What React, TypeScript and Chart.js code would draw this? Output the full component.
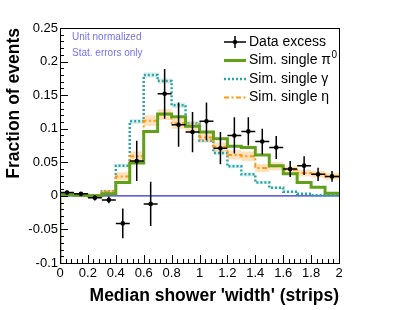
import React, { useEffect, useRef } from "react";
import { Chart, registerables } from "chart.js";

Chart.register(...registerables);

// ---- data ----
const binEdges = [0, 0.1, 0.2, 0.3, 0.4, 0.5, 0.6, 0.7, 0.8, 0.9, 1.0, 1.1, 1.2, 1.3, 1.4, 1.5, 1.6, 1.7, 1.8, 1.9, 2.0];
const binCenters = [0.05, 0.15, 0.25, 0.35, 0.45, 0.55, 0.65, 0.75, 0.85, 0.95, 1.05, 1.15, 1.25, 1.35, 1.45, 1.55, 1.65, 1.75, 1.85, 1.95];

const dataValues = [0.005, 0.003, -0.003, -0.006, -0.041, 0.052, -0.012, 0.152, 0.106, 0.095, 0.111, 0.071, 0.090, 0.096, 0.081, 0.072, 0.040, 0.045, 0.032, 0.029];
const dataErrors = [0.003, 0.002, 0.004, 0.005, 0.022, 0.030, 0.033, 0.037, 0.033, 0.030, 0.028, 0.024, 0.027, 0.021, 0.019, 0.017, 0.012, 0.014, 0.010, 0.008];

const pi0Values = [0.002, 0.001, 0.000, 0.003, 0.020, 0.049, 0.096, 0.122, 0.118, 0.1035, 0.095, 0.085, 0.074, 0.072, 0.061, 0.045, 0.033, 0.020, 0.0127, 0.004];

const gammaValues = [0.001, 0.001, 0.001, 0.007, 0.045, 0.111, 0.180, 0.171, 0.135, 0.108, 0.082, 0.064, 0.044, 0.032, 0.020, 0.012, 0.006, 0.003, 0.001, 0.001];
const gammaErrors = [0.001, 0.001, 0.001, 0.002, 0.003, 0.004, 0.004, 0.004, 0.004, 0.004, 0.003, 0.003, 0.003, 0.003, 0.002, 0.002, 0.002, 0.001, 0.001, 0.001];

const etaValues = [0.001, 0.001, 0.001, 0.006, 0.029, 0.059, 0.112, 0.121, 0.108, 0.1035, 0.087, 0.073, 0.061, 0.059, 0.0415, 0.044, 0.039, 0.034, 0.032, 0.029];
const etaErrors = [0.001, 0.001, 0.001, 0.003, 0.006, 0.007, 0.008, 0.008, 0.008, 0.007, 0.007, 0.007, 0.007, 0.007, 0.006, 0.006, 0.005, 0.005, 0.005, 0.005];

const xTickValues = [0, 0.2, 0.4, 0.6, 0.8, 1.0, 1.2, 1.4, 1.6, 1.8, 2.0];
const yTickValues = [-0.1, -0.05, 0, 0.05, 0.1, 0.15, 0.2, 0.25];
const xRange = [0, 2];
const yRange = [-0.1, 0.25];

const legendLabels = ["Data excess", "Sim. single π", "Sim. single γ", "Sim. single η"];
const noteLabels = ["Unit normalized", "Stat. errors only"];
const xTitle = "Median shower 'width' (strips)";
const yTitle = "Fraction of events";

// ---- styles ----
const FONT = "'Liberation Sans', Arial, Helvetica, sans-serif";
const GREEN = "#62a01a";
const TEAL = "#2ca5a5";
const ORANGE = "#ff9a10";
const BLUE = "#2f2fd0";
const NOTE = "#7272e8";

function steps(values: number[], errs: number[] | null, sign: number) {
  const pts: { x: number; y: number }[] = [];
  values.forEach((v, i) => {
    const y = v + (errs ? sign * errs[i] : 0);
    pts.push({ x: binEdges[i], y });
    pts.push({ x: binEdges[i + 1], y });
  });
  return pts;
}

const fmt = (v: number) => String(Math.round(v * 100) / 100);

const overlayPlugin = {
  id: "overlay",
  afterDatasetsDraw(chart: any) {
    const { ctx, scales } = chart;
    const xs = scales.x;
    const ys = scales.y;
    ctx.save();
    ctx.strokeStyle = "#000";
    ctx.lineWidth = 1.5;
    dataValues.forEach((v, i) => {
      const cx = xs.getPixelForValue(binCenters[i]);
      const cy = ys.getPixelForValue(v);
      ctx.beginPath();
      ctx.moveTo(cx, ys.getPixelForValue(v + dataErrors[i]));
      ctx.lineTo(cx, ys.getPixelForValue(v - dataErrors[i]));
      ctx.moveTo(xs.getPixelForValue(binEdges[i]), cy);
      ctx.lineTo(xs.getPixelForValue(binEdges[i + 1]), cy);
      ctx.stroke();
    });
    ctx.restore();
  },
  afterDraw(chart: any) {
    const { ctx, chartArea: a, scales } = chart;
    const xs = scales.x;
    const ys = scales.y;
    ctx.save();
    ctx.strokeStyle = "#000";
    ctx.lineWidth = 1;
    ctx.strokeRect(Math.round(a.left) + 0.5, Math.round(a.top) + 0.5, Math.round(a.right - a.left), Math.round(a.bottom - a.top));
    ctx.beginPath();
    for (let i = 0; i < xTickValues.length; i++) {
      const v = xTickValues[i];
      const px = Math.round(xs.getPixelForValue(v)) + 0.5;
      ctx.moveTo(px, a.bottom);
      ctx.lineTo(px, a.bottom - 8);
      if (i < xTickValues.length - 1) {
        const step = (xTickValues[i + 1] - v) / 5;
        for (let k = 1; k < 5; k++) {
          const mx = Math.round(xs.getPixelForValue(v + k * step)) + 0.5;
          ctx.moveTo(mx, a.bottom);
          ctx.lineTo(mx, a.bottom - 4);
        }
      }
    }
    for (let i = 0; i < yTickValues.length; i++) {
      const v = yTickValues[i];
      const py = Math.round(ys.getPixelForValue(v)) + 0.5;
      ctx.moveTo(a.left, py);
      ctx.lineTo(a.left + 8, py);
      if (i < yTickValues.length - 1) {
        const step = (yTickValues[i + 1] - v) / 5;
        for (let k = 1; k < 5; k++) {
          const my = Math.round(ys.getPixelForValue(v + k * step)) + 0.5;
          ctx.moveTo(a.left, my);
          ctx.lineTo(a.left + 4, my);
        }
      }
    }
    ctx.stroke();

    ctx.fillStyle = NOTE;
    ctx.font = `10px ${FONT}`;
    ctx.textBaseline = "middle";
    ctx.textAlign = "left";
    ctx.fillText(noteLabels[0], a.left + 12, a.top + 9);
    ctx.fillText(noteLabels[1], a.left + 12, a.top + 25.5);

    const lx0 = 224, lx1 = 246, tx = 249;
    const rows = [42, 60.5, 79, 97.5];
    ctx.font = `14px ${FONT}`;
    ctx.fillStyle = "#000";
    ctx.strokeStyle = "#000";
    ctx.lineWidth = 1.5;
    ctx.beginPath();
    ctx.moveTo(lx0, rows[0]);
    ctx.lineTo(lx1, rows[0]);
    ctx.moveTo((lx0 + lx1) / 2, rows[0] - 6);
    ctx.lineTo((lx0 + lx1) / 2, rows[0] + 6);
    ctx.stroke();
    ctx.beginPath();
    ctx.arc((lx0 + lx1) / 2, rows[0], 2.2, 0, Math.PI * 2);
    ctx.fill();
    ctx.fillText(legendLabels[0], tx, rows[0]);
    ctx.strokeStyle = GREEN;
    ctx.lineWidth = 3;
    ctx.beginPath();
    ctx.moveTo(lx0, rows[1]);
    ctx.lineTo(lx1, rows[1]);
    ctx.stroke();
    ctx.fillText(legendLabels[1], tx, rows[1]);
    const w1 = ctx.measureText(legendLabels[1]).width;
    ctx.font = `10px ${FONT}`;
    ctx.fillText("0", tx + w1 + 0.5, rows[1] - 5);
    ctx.font = `14px ${FONT}`;
    ctx.strokeStyle = TEAL;
    ctx.lineWidth = 2.5;
    ctx.setLineDash([2, 2]);
    ctx.beginPath();
    ctx.moveTo(lx0, rows[2]);
    ctx.lineTo(lx1, rows[2]);
    ctx.stroke();
    ctx.fillText(legendLabels[2], tx, rows[2]);
    ctx.strokeStyle = ORANGE;
    ctx.lineWidth = 2;
    ctx.setLineDash([5, 2.5, 2, 2.5]);
    ctx.beginPath();
    ctx.moveTo(lx0, rows[3]);
    ctx.lineTo(lx1, rows[3]);
    ctx.stroke();
    ctx.setLineDash([]);
    ctx.fillText(legendLabels[3], tx, rows[3]);
    ctx.restore();
  },
};

export default function App() {
  const ref = useRef<HTMLCanvasElement | null>(null);
  useEffect(() => {
    if (!ref.current) return;
    const line = (extra: any) => ({
      type: "line",
      pointRadius: 0,
      borderWidth: 0,
      fill: false,
      tension: 0,
      ...extra,
    });
    const chart = new Chart(ref.current, {
      type: "line",
      data: {
        datasets: [
          {
            type: "line",
            data: dataValues.map((v, i) => ({ x: binCenters[i], y: v })),
            showLine: false,
            pointRadius: 2.3,
            pointBackgroundColor: "#000",
            pointBorderColor: "#000",
            borderWidth: 0,
            order: 0,
          },
          line({
            data: [{ x: binEdges[0], y: yRange[0] }, ...steps(pi0Values, null, 0)],
            borderColor: GREEN,
            borderWidth: 3,
            order: 2,
          }),
          line({
            data: steps(etaValues, null, 0),
            borderColor: ORANGE,
            borderWidth: 2,
            borderDash: [5, 2.5, 2, 2.5],
            order: 3,
          }),
          line({
            data: steps(etaValues, etaErrors, 1),
            backgroundColor: "rgba(255,180,90,0.4)",
            fill: "+1",
            order: 4,
          }),
          line({ data: steps(etaValues, etaErrors, -1), order: 5 }),
          line({
            data: steps(gammaValues, null, 0),
            borderColor: TEAL,
            borderWidth: 2.5,
            borderDash: [2, 2],
            order: 6,
          }),
          line({
            data: steps(gammaValues, gammaErrors, 1),
            backgroundColor: "rgba(60,170,170,0.18)",
            fill: "+1",
            order: 7,
          }),
          line({ data: steps(gammaValues, gammaErrors, -1), order: 8 }),
          line({
            data: [{ x: xRange[0], y: 0 }, { x: xRange[1], y: 0 }],
            borderColor: BLUE,
            borderWidth: 1.2,
            order: 9,
          }),
        ] as any,
      },
      options: {
        responsive: false,
        animation: false,
        layout: { padding: { top: 28, right: 60, bottom: 0, left: 0 } },
        plugins: { legend: { display: false }, tooltip: { enabled: false } },
        scales: {
          x: {
            type: "linear",
            min: xRange[0],
            max: xRange[1],
            grid: { display: false, drawTicks: false },
            border: { display: false },
            afterBuildTicks: (s: any) => {
              s.ticks = xTickValues.map((v) => ({ value: v }));
            },
            afterFit: (s: any) => {
              s.height = 47;
            },
            ticks: {
              autoSkip: false,
              maxRotation: 0,
              padding: 3,
              color: "#000",
              font: { family: FONT, size: 13 },
              callback: (v: any) => fmt(Number(v)),
            },
            title: {
              display: true,
              text: xTitle,
              align: "end",
              color: "#000",
              font: { family: FONT, size: 17.5, weight: "bold" },
              padding: { top: 0, bottom: 3 },
            },
          },
          y: {
            type: "linear",
            min: yRange[0],
            max: yRange[1],
            grid: { display: false, drawTicks: false },
            border: { display: false },
            afterBuildTicks: (s: any) => {
              s.ticks = yTickValues.map((v) => ({ value: v }));
            },
            afterFit: (s: any) => {
              s.width = 60;
            },
            ticks: {
              autoSkip: false,
              padding: 2,
              color: "#000",
              font: { family: FONT, size: 13 },
              callback: (v: any) => fmt(Number(v)),
            },
            title: {
              display: true,
              text: yTitle,
              align: "end",
              color: "#000",
              font: { family: FONT, size: 17.5, weight: "bold" },
              padding: { top: 4, bottom: 0 },
            },
          },
        },
      } as any,
      plugins: [overlayPlugin],
    });
    return () => chart.destroy();
  }, []);
  return (
    <div style={{ position: "fixed", left: 0, top: 0, width: 399, height: 310, background: "#fff" }}>
      <canvas ref={ref} width={399} height={310} style={{ width: 399, height: 310, display: "block" }} />
    </div>
  );
}
